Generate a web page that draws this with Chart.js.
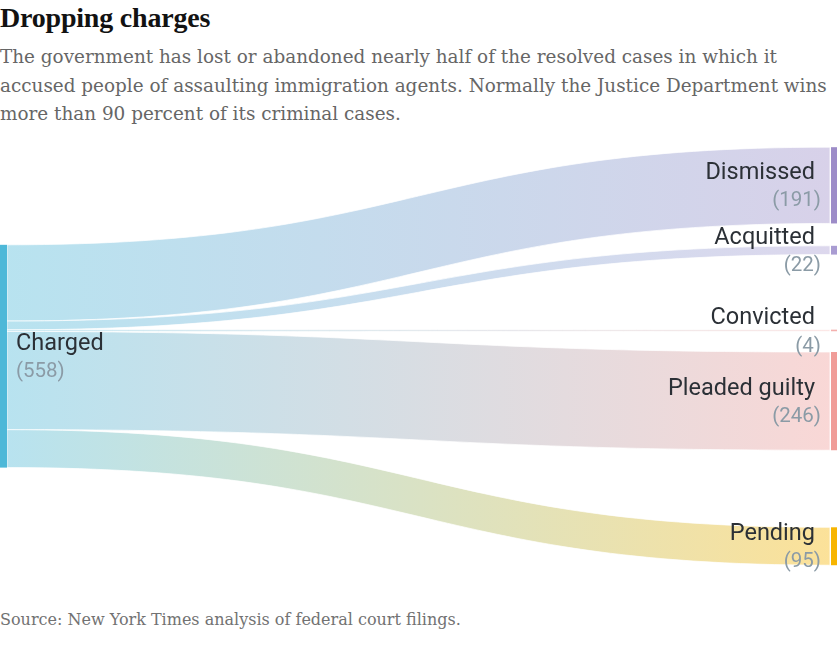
<!DOCTYPE html>
<html>
<head>
<meta charset="utf-8">
<script src="https://cdn.jsdelivr.net/npm/chart.js@4.4.1/dist/chart.umd.min.js"></script>
<style>
    html, body { margin: 0; padding: 0; background: #fff; }
    body { width: 837px; height: 662px; position: relative; overflow: hidden; }
    .title { position: absolute; left: 0; top: 2px; font: bold 28px/32px "Liberation Serif", serif; color: #121212; letter-spacing: -0.2px; }
    .subtitle { position: absolute; left: 0; top: 43px; font: 18.4px/28.5px "DejaVu Serif", serif; color: #666; white-space: nowrap; }
    .source { position: absolute; left: 0; top: 608px; font: 16px/24px "DejaVu Serif", serif; color: #727272; }
    #chart-wrap { position: absolute; left: 0; top: 140px; width: 837px; height: 440px; }
</style>
</head>
<body>
<div class="title">Dropping charges</div>
<div class="subtitle">The government has lost or abandoned nearly half of the resolved cases in which it<br>accused people of assaulting immigration agents. Normally the Justice Department wins<br>more than 90 percent of its criminal cases.</div>
<div id="chart-wrap"><canvas id="sankey-chart"></canvas></div>
<div class="source">Source: New York Times analysis of federal court filings.</div>

<script>
// =================================================================
// Data
// =================================================================
const sourceName = 'Charged';
const outcomes = ['Dismissed', 'Acquitted', 'Convicted', 'Pleaded guilty', 'Pending'];
const caseCounts = [191, 22, 4, 246, 95];

// colours
const sourceColor = '#4db8d8';
const outcomeColors = ['#9d8cc8', '#a99cd2', '#f4b0ae', '#f09c98', '#f7b500'];
const LINK_ALPHA = 0.4;

// vertical spacing (in case units) between the right-hand nodes
const nodeGaps = [56, 188, 52, 193];
const NODE_WIDTH = 7;

const totalCases = caseCounts.reduce((a, b) => a + b, 0);
const rightSpan = totalCases + nodeGaps.reduce((a, b) => a + b, 0);
const leftTop = (rightSpan - totalCases) / 2;

function hexToRgba(hex, alpha) {
    const n = parseInt(hex.slice(1), 16);
    return `rgba(${(n >> 16) & 255}, ${(n >> 8) & 255}, ${n & 255}, ${alpha})`;
}

// node extents in case units
function buildLayout() {
    const links = [];
    let leftCursor = leftTop;
    let rightCursor = 0;
    caseCounts.forEach((count, i) => {
        links.push({
            name: outcomes[i],
            count: count,
            color: outcomeColors[i],
            left: [leftCursor, leftCursor + count],
            right: [rightCursor, rightCursor + count]
        });
        leftCursor += count;
        rightCursor += count + (nodeGaps[i] || 0);
    });
    return links;
}

const sankeyPlugin = {
    id: 'sankeyPlugin',
    afterDatasetsDraw(chart) {
        const { ctx, scales: { x, y } } = chart;
        const links = buildLayout();
        const xLeft = x.getPixelForValue(0);
        const xRight = x.getPixelForValue(1);
        const x0 = xLeft + NODE_WIDTH;
        const x1 = xRight - NODE_WIDTH;
        const xm = (x0 + x1) / 2;

        ctx.save();
        // links
        links.forEach(link => {
            const ly0 = y.getPixelForValue(link.left[0]);
            const ly1 = y.getPixelForValue(link.left[1]);
            const ry0 = y.getPixelForValue(link.right[0]);
            const ry1 = y.getPixelForValue(link.right[1]);
            const grad = ctx.createLinearGradient(x0, 0, x1, 0);
            grad.addColorStop(0, hexToRgba(sourceColor, LINK_ALPHA));
            grad.addColorStop(1, hexToRgba(link.color, LINK_ALPHA));
            ctx.beginPath();
            ctx.moveTo(x0, ly0);
            ctx.bezierCurveTo(xm, ly0, xm, ry0, x1, ry0);
            ctx.lineTo(x1, ry1);
            ctx.bezierCurveTo(xm, ry1, xm, ly1, x0, ly1);
            ctx.closePath();
            ctx.fillStyle = grad;
            ctx.fill();
            ctx.strokeStyle = 'rgba(255,255,255,0.9)';
            ctx.lineWidth = 0.8;
            ctx.stroke();
        });

        // nodes
        const lTop = y.getPixelForValue(leftTop);
        const lBottom = y.getPixelForValue(leftTop + totalCases);
        ctx.fillStyle = sourceColor;
        ctx.fillRect(xLeft, lTop, NODE_WIDTH, lBottom - lTop);
        links.forEach(link => {
            const t = y.getPixelForValue(link.right[0]);
            const b = y.getPixelForValue(link.right[1]);
            ctx.fillStyle = link.color;
            ctx.fillRect(xRight - NODE_WIDTH + 1, t, NODE_WIDTH - 1, Math.max(b - t, 1.5));
        });

        // labels
        ctx.textBaseline = 'middle';
        const nameFont = '23.5px Roboto, "Noto Sans", sans-serif';
        const valueFont = '20.5px Roboto, "Noto Sans", sans-serif';
        const lMid = (lTop + lBottom) / 2;
        ctx.textAlign = 'left';
        ctx.fillStyle = '#2b3036';
        ctx.font = nameFont;
        ctx.fillText(sourceName, 16, lMid - 12);
        ctx.fillStyle = '#8b9ba6';
        ctx.font = valueFont;
        ctx.fillText(`(${totalCases})`, 16, lMid + 16);

        ctx.textAlign = 'right';
        links.forEach(link => {
            const mid = (y.getPixelForValue(link.right[0]) + y.getPixelForValue(link.right[1])) / 2;
            ctx.fillStyle = '#2b3036';
            ctx.font = nameFont;
            ctx.fillText(link.name, xRight - 22, mid - 12);
            ctx.fillStyle = '#8b9ba6';
            ctx.font = valueFont;
            ctx.fillText(`(${link.count})`, xRight - 16, mid + 16);
        });
        ctx.restore();
    }
};

new Chart(document.getElementById('sankey-chart'), {
    type: 'scatter',
    data: { datasets: [{ data: [], pointRadius: 0 }] },
    options: {
        responsive: true,
        maintainAspectRatio: false,
        animation: false,
        layout: { padding: 0 },
        plugins: { legend: { display: false }, tooltip: { enabled: false } },
        scales: {
            x: { type: 'linear', min: 0, max: 1, display: false },
            y: { type: 'linear', min: -18, max: 1084, reverse: true, display: false }
        }
    },
    plugins: [sankeyPlugin]
});
</script>
</body>
</html>
